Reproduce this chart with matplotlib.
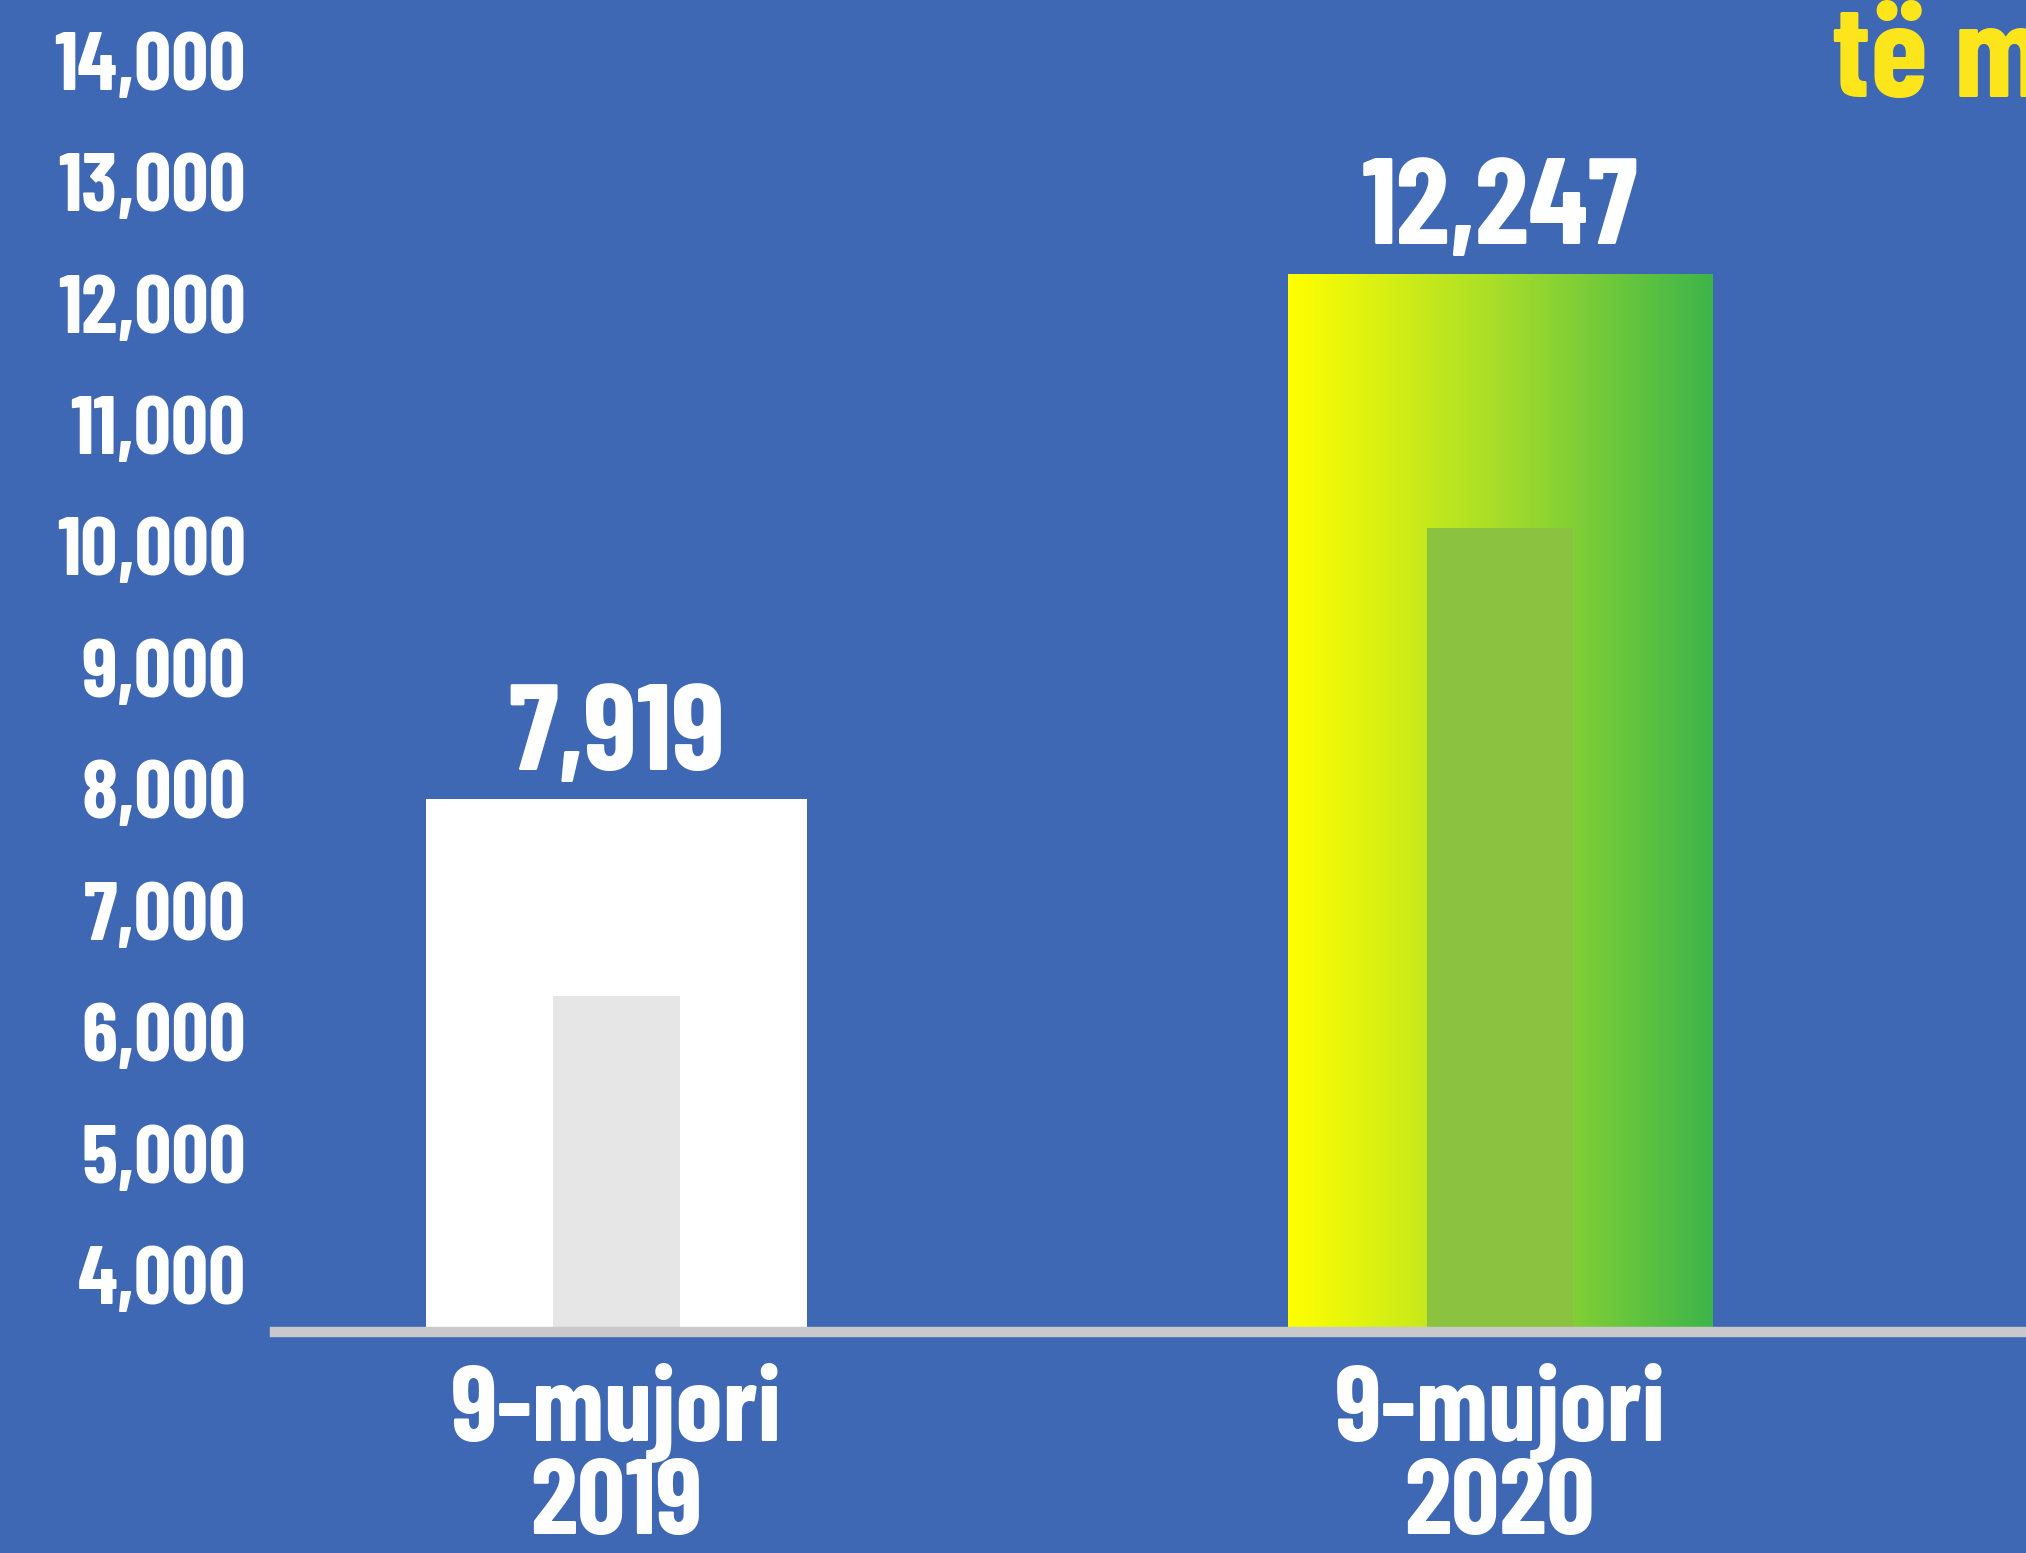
import numpy as np
import matplotlib
matplotlib.use('Agg')
import matplotlib.pyplot as plt

# data
categories = ['9-mujori\n2019', '9-mujori\n2020']
values = [7919, 12247]
value_labels = ['7,919', '12,247']
inner_values = [6300, 10150]
yticks = [4000, 5000, 6000, 7000, 8000, 9000, 10000, 11000, 12000, 13000, 14000]

FONT = ['Barlow Condensed', 'DejaVu Sans']
plt.rcParams['font.family'] = FONT
plt.rcParams['font.weight'] = 'bold'

BG = '#3e67b4'

fig = plt.figure(figsize=(20.26, 15.53), dpi=100)
fig.patch.set_facecolor(BG)
ax = fig.add_axes([0.1357, 0.1423, 0.8643, 0.8577])
ax.set_facecolor('none')

x = np.arange(len(categories))
base = 3530

# outer bars
bars = ax.bar(x, np.array(values) - base, bottom=base, width=[0.431, 0.48],
              color=['white', 'none'], edgecolor='none', zorder=2)

# gradient fill for the 2020 bar
grad = np.linspace(0, 1, 256).reshape(1, -1)
cmap = matplotlib.colors.LinearSegmentedColormap.from_list(
    'yg', ['#ffff00', '#a6dd2a', '#3cb54a'])
b = bars[1]
im = ax.imshow(grad, cmap=cmap, aspect='auto', zorder=2,
               extent=[b.get_x(), b.get_x() + b.get_width(), base, values[1]])
im.set_clip_path(b)

# inner bars
ax.bar(x, np.array(inner_values) - base, bottom=base, width=[0.143, 0.166],
       color=['#e6e6e6', '#8bc240'], edgecolor='none', zorder=3)

for xi, v, lab in zip(x, values, value_labels):
    ax.annotate(lab, (xi, v), xytext=(0, 21), textcoords='offset points',
                ha='center', va='baseline', color='white', fontsize=88,
                fontweight='bold')

ax.set_xlim(-0.3865, 1.5954)
ax.set_ylim(base, 14500)
ax.set_yticks(yticks)
ax.set_yticklabels(['{:,}'.format(t) for t in yticks])
ax.set_xticks(x)
ax.set_xticklabels(categories, linespacing=0.95)
ax.tick_params(axis='y', length=0, pad=21, labelsize=59, labelcolor='white')
ax.tick_params(axis='x', length=0, pad=22, labelsize=77, labelcolor='white')

for s in ['top', 'right', 'left']:
    ax.spines[s].set_visible(False)
ax.spines['bottom'].set_color('#c9c8cc')
ax.spines['bottom'].set_linewidth(7.5)
ax.spines['bottom'].set_zorder(4)

fig.text(1832 / 2026, 1 - 97 / 1553, 'të m', color='#fde51c', fontsize=95,
         fontweight='bold', ha='left', va='baseline')

fig.savefig('out.png', dpi=100, facecolor=BG)
